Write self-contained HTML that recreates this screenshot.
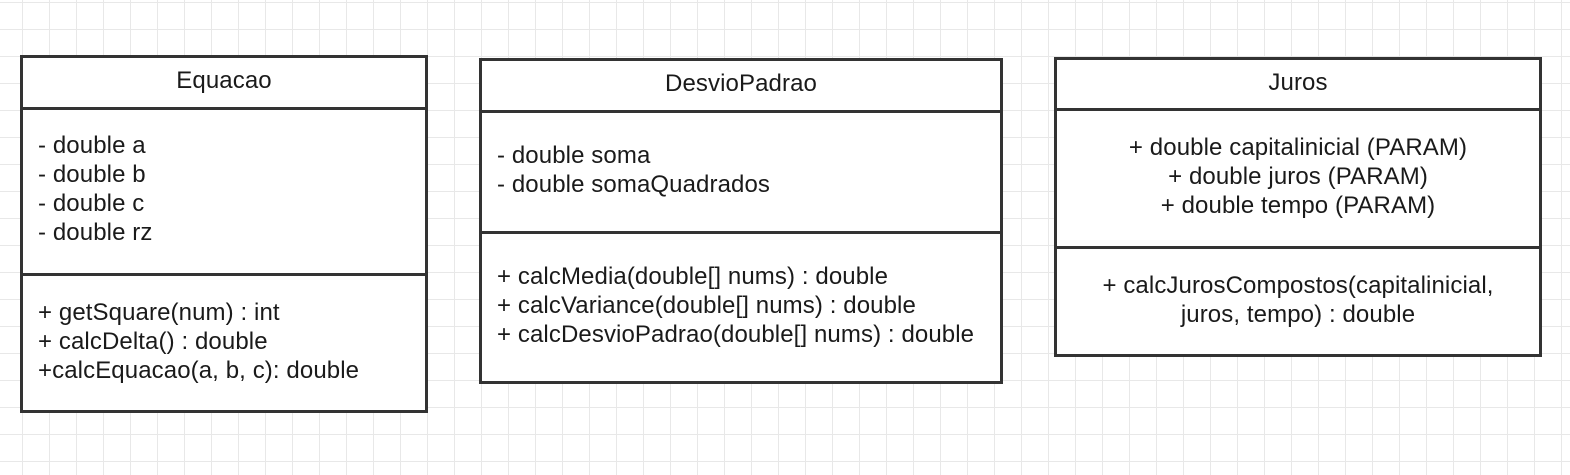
<!DOCTYPE html>
<html><head><style>
body{margin:0;width:1570px;height:475px;overflow:hidden;background-color:#fff;
background-image:linear-gradient(#e8e8e8 1px,transparent 1px),linear-gradient(90deg,#e8e8e8 1px,transparent 1px);
background-size:27px 27px;background-position:22px 2px;font-family:"Liberation Sans",sans-serif;color:#1a1a1a;font-size:24px;letter-spacing:0.1px;}
.b{position:absolute;border:3px solid #333;background:#fff;box-sizing:border-box;}
.h{position:absolute;left:0;right:0;text-align:center;}
.l{position:absolute;left:0;right:0;border-top:3px solid #333;}
.t{position:absolute;line-height:29px;white-space:pre;}
</style></head><body>
<div class="b" style="left:20px;top:55px;width:408px;height:358px">
<div class="h" style="top:9px">Equacao</div>
<div class="l" style="top:49px"></div>
<div class="t" style="left:15px;top:73px">- double a
- double b
- double c
- double rz</div>
<div class="l" style="top:215px"></div>
<div class="t" style="left:15px;top:240px">+ getSquare(num) : int
+ calcDelta() : double
+calcEquacao(a, b, c): double</div>
</div>
<div class="b" style="left:479px;top:58px;width:524px;height:326px">
<div class="h" style="top:9px">DesvioPadrao</div>
<div class="l" style="top:49px"></div>
<div class="t" style="left:15px;top:80px">- double soma
- double somaQuadrados</div>
<div class="l" style="top:170px"></div>
<div class="t" style="left:15px;top:201px">+ calcMedia(double[] nums) : double
+ calcVariance(double[] nums) : double
+ calcDesvioPadrao(double[] nums) : double</div>
</div>
<div class="b" style="left:1054px;top:57px;width:488px;height:300px">
<div class="h" style="top:9px">Juros</div>
<div class="l" style="top:48px"></div>
<div class="t" style="left:0;right:0;text-align:center;top:73px">+ double capitalinicial (PARAM)
+ double juros (PARAM)
+ double tempo (PARAM)</div>
<div class="l" style="top:186px"></div>
<div class="t" style="left:0;right:0;text-align:center;top:211px">+ calcJurosCompostos(capitalinicial,
juros, tempo) : double</div>
</div>
</body></html>
